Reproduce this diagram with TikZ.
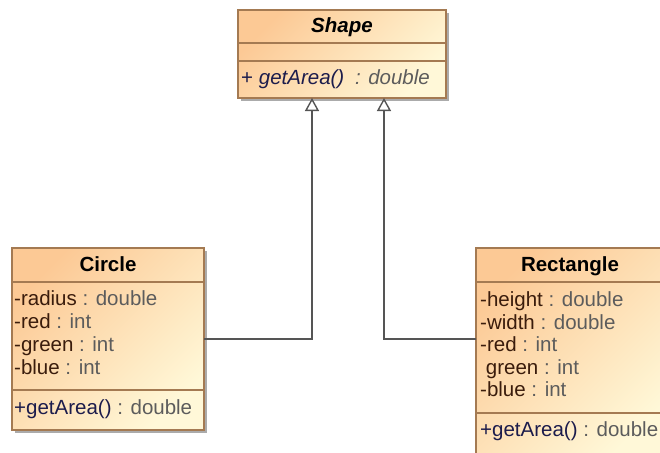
\documentclass[tikz,border=0pt]{standalone}
\usepackage{fontspec}
\setmainfont{Liberation Sans}
\usetikzlibrary{arrows.meta}
\definecolor{fillA}{HTML}{FCC995}
\definecolor{fillB}{HTML}{FFF8D8}
\definecolor{bord}{HTML}{A47A52}
\definecolor{shad}{HTML}{ABABAB}
\definecolor{nm}{HTML}{3A1C0C}
\definecolor{ty}{HTML}{5C5C5C}
\definecolor{op}{HTML}{1C1C4C}
\definecolor{conn}{HTML}{555555}
\tikzset{
 classbox/.style={draw=bord, line width=1.2pt, top color=fillA, bottom color=fillB, shading angle=45, anchor=north west, inner sep=0pt, outer sep=0pt},
 shadowbox/.style={fill=shad, anchor=north west, inner sep=0pt, outer sep=0pt, draw=none},
 txt/.style={anchor=base west, inner sep=0pt, font=\fontsize{20.5}{23}\selectfont},
 ttl/.style={anchor=base, inner sep=0pt, font=\fontsize{20.5}{23}\selectfont\bfseries},
 divider/.style={draw=bord, line width=1.2pt},
 gen/.style={draw=conn, line width=1.4pt, -{Triangle[open, length=13pt, width=14pt, fill=white]}},
}
\newcommand{\attr}[2]{{\color{nm}#1} {\color{ty}: #2}}
\newcommand{\oper}[2]{{\color{op}#1} {\color{ty}: #2}}
\begin{document}
\begin{tikzpicture}[x=1pt, y=-1pt]
\useasboundingbox (0,0) rectangle (660,452);
\clip (0,0) rectangle (660,452);
% shadows
\node[shadowbox, minimum width=208pt, minimum height=88pt] (shapesh) at (241,13) {};
\node[shadowbox, minimum width=192pt, minimum height=182pt] (circsh) at (15,251) {};
\node[shadowbox, minimum width=190pt, minimum height=212pt] (rectsh) at (479,251) {};
% boxes
\node[classbox, minimum width=208pt, minimum height=88pt] (shape) at (238,10) {};
\node[classbox, minimum width=192pt, minimum height=182pt] (circle) at (12,248) {};
\node[classbox, minimum width=190pt, minimum height=212pt] (rect) at (476,248) {};
% dividers
\draw[divider] (shape.west |- 0,43) -- (shape.east |- 0,43);
\draw[divider] (shape.west |- 0,61) -- (shape.east |- 0,61);
\draw[divider] (circle.west |- 0,282) -- (circle.east |- 0,282);
\draw[divider] (circle.west |- 0,390) -- (circle.east |- 0,390);
\draw[divider] (rect.west |- 0,282) -- (rect.east |- 0,282);
\draw[divider] (rect.west |- 0,413) -- (rect.east |- 0,413);
% Shape texts
\node[ttl, font=\fontsize{20.5}{23}\selectfont\bfseries\itshape] (shapet) at (342,33) {Shape};
\node[txt] (shapem) at (241,84) {{\color{op}+ \textit{getArea()}}\hspace{5pt} {\color{ty}\textit{: double}}};
% Circle texts
\node[ttl] (circt) at (108,271) {Circle};
\node[txt] (c1) at (14,305) {\attr{-radius}{double}};
\node[txt] (c2) at (14,328) {\attr{-red}{int}};
\node[txt] (c3) at (14,351) {\attr{-green}{int}};
\node[txt] (c4) at (14,374) {\attr{-blue}{int}};
\node[txt] (cm) at (14,414) {\oper{+getArea()}{double}};
% Rectangle texts
\node[ttl] (rectt) at (570,271) {Rectangle};
\node[txt] (r1) at (480,306) {\attr{-height}{double}};
\node[txt] (r2) at (480,329) {\attr{-width}{double}};
\node[txt] (r3) at (480,351) {\attr{-red}{int}};
\node[txt] (r4) at (480,374) {\attr{\ green}{int}};
\node[txt] (r5) at (480,396) {\attr{-blue}{int}};
\node[txt] (rm) at (480,436) {\oper{+getArea()}{double}};
% generalizations
\draw[gen] (circle.east) -| ([xshift=-30pt]shape.south);
\draw[gen] (rect.west |- circle.east) -| ([xshift=42pt]shape.south);
\end{tikzpicture}
\end{document}
